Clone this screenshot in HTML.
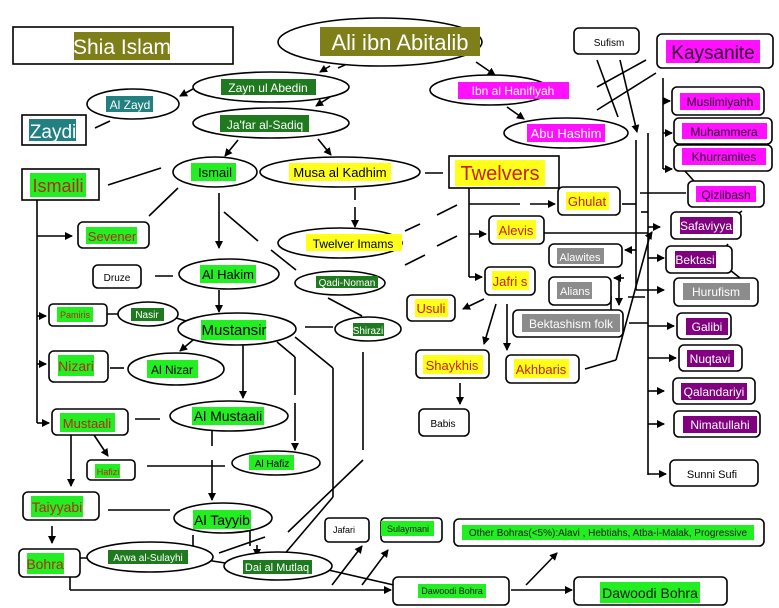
<!DOCTYPE html>
<html><head><meta charset="utf-8"><style>
html,body{margin:0;padding:0;background:#fff;}
svg{display:block;font-family:"Liberation Sans",sans-serif;}
</style></head><body>
<svg width="779" height="608" viewBox="0 0 779 608" xmlns="http://www.w3.org/2000/svg">
<defs><marker id="a" markerWidth="8" markerHeight="8" refX="7" refY="4" orient="auto" markerUnits="userSpaceOnUse"><path d="M0,0 L8,4 L0,8 z" fill="#000"/></marker></defs>
<rect width="779" height="608" fill="#fff"/>
<g stroke="#000" stroke-width="1.6" fill="none">
<line x1="330" y1="66" x2="320" y2="72" marker-end="url(#a)"/><line x1="338" y1="68" x2="347" y2="64"/>
<line x1="193" y1="89" x2="180" y2="96" marker-end="url(#a)"/>
<line x1="95" y1="128" x2="110" y2="121"/>
<line x1="330" y1="97" x2="316" y2="106" marker-end="url(#a)"/>
<line x1="238" y1="140" x2="225" y2="156" marker-end="url(#a)"/>
<line x1="318" y1="139" x2="331" y2="155" marker-end="url(#a)"/>
<line x1="108" y1="185" x2="161" y2="168"/>
<line x1="149" y1="216" x2="178" y2="188"/>
<line x1="219" y1="193" x2="219" y2="248" marker-end="url(#a)"/>
<line x1="224" y1="212" x2="258" y2="241"/><line x1="271" y1="250" x2="296" y2="270"/>
<line x1="355" y1="188" x2="355" y2="200"/><line x1="355" y1="207" x2="355" y2="227" marker-end="url(#a)"/>
<line x1="37" y1="200" x2="37" y2="423"/>
<line x1="37" y1="236" x2="72" y2="236" marker-end="url(#a)"/>
<line x1="37" y1="316" x2="46" y2="316" marker-end="url(#a)"/>
<line x1="37" y1="364" x2="46" y2="364" marker-end="url(#a)"/>
<line x1="37" y1="423" x2="49" y2="423" marker-end="url(#a)"/>
<line x1="155" y1="276" x2="173" y2="276"/>
<line x1="219" y1="290" x2="219" y2="312" marker-end="url(#a)"/>
<line x1="99" y1="314" x2="118" y2="314"/>
<line x1="173" y1="317" x2="186" y2="321"/>
<line x1="193" y1="340" x2="180" y2="351" marker-end="url(#a)"/>
<line x1="110" y1="368" x2="124" y2="368"/>
<line x1="243" y1="345" x2="243" y2="398" marker-end="url(#a)"/>
<line x1="135" y1="419" x2="160" y2="419"/>
<line x1="277" y1="342" x2="295" y2="357"/><line x1="295" y1="357" x2="295" y2="450" stroke-dasharray="38,8" marker-end="url(#a)"/>
<line x1="295" y1="337" x2="333" y2="368"/><line x1="333" y1="368" x2="333" y2="497"/><line x1="333" y1="497" x2="282" y2="557"/>
<line x1="305" y1="327" x2="333" y2="327"/>
<line x1="363" y1="352" x2="363" y2="450"/><line x1="363" y1="460" x2="288" y2="532"/>
<line x1="328" y1="298" x2="362" y2="316"/>
<line x1="212" y1="431" x2="212" y2="446"/><line x1="212" y1="460" x2="212" y2="500" marker-end="url(#a)"/>
<line x1="147" y1="466" x2="225" y2="466"/>
<line x1="94" y1="435" x2="108" y2="456" marker-end="url(#a)"/>
<line x1="71" y1="435" x2="71" y2="486" marker-end="url(#a)"/>
<line x1="108" y1="510" x2="170" y2="510"/>
<line x1="52" y1="526" x2="52" y2="543" marker-end="url(#a)"/>
<line x1="78" y1="558" x2="98" y2="558"/>
<line x1="193" y1="535" x2="193" y2="550"/>
<line x1="250" y1="530" x2="250" y2="546"/><line x1="257" y1="545" x2="257" y2="556" marker-end="url(#a)"/>
<line x1="219" y1="553" x2="265" y2="537"/>
<line x1="206" y1="560" x2="238" y2="565"/>
<line x1="324" y1="569" x2="398" y2="586"/>
<line x1="70" y1="577" x2="70" y2="590"/><line x1="70" y1="590" x2="391" y2="590" marker-end="url(#a)"/>
<line x1="332" y1="585" x2="362" y2="546" marker-end="url(#a)"/>
<line x1="362" y1="585" x2="388" y2="550" marker-end="url(#a)"/>
<line x1="511" y1="590" x2="572" y2="590" marker-end="url(#a)"/>
<line x1="526" y1="585" x2="557" y2="553" marker-end="url(#a)"/>
<line x1="476" y1="62" x2="495" y2="75" marker-end="url(#a)"/>
<line x1="507" y1="107" x2="524" y2="119" marker-end="url(#a)"/>
<line x1="425" y1="173" x2="443" y2="173"/>
<line x1="469" y1="188" x2="469" y2="277"/>
<line x1="469" y1="204" x2="520" y2="204"/><line x1="530" y1="204" x2="555" y2="204" marker-end="url(#a)"/>
<line x1="469" y1="234" x2="486" y2="234" marker-end="url(#a)"/>
<line x1="469" y1="277" x2="482" y2="277" marker-end="url(#a)"/>
<line x1="437" y1="215" x2="457" y2="205"/><line x1="405" y1="231" x2="420" y2="224"/>
<line x1="437" y1="246" x2="457" y2="236"/><line x1="405" y1="265" x2="425" y2="255"/>
<line x1="484" y1="299" x2="463" y2="309" marker-end="url(#a)"/>
<line x1="496" y1="304" x2="484" y2="344" marker-end="url(#a)"/>
<line x1="507" y1="304" x2="507" y2="350" marker-end="url(#a)"/>
<line x1="460" y1="383" x2="460" y2="404" marker-end="url(#a)"/>
<line x1="597" y1="60" x2="618" y2="117"/><line x1="620" y1="60" x2="637" y2="132" marker-end="url(#a)"/>
<line x1="597" y1="87" x2="646" y2="60"/><line x1="597" y1="110" x2="656" y2="73"/>
<line x1="636" y1="140" x2="636" y2="290"/><line x1="636" y1="290" x2="664" y2="290" marker-end="url(#a)"/>
<line x1="648" y1="133" x2="648" y2="475"/>
<line x1="663" y1="78" x2="663" y2="169"/>
<line x1="663" y1="101" x2="670" y2="101" marker-end="url(#a)"/>
<line x1="663" y1="133" x2="672" y2="133" marker-end="url(#a)"/>
<line x1="663" y1="169" x2="672" y2="169" marker-end="url(#a)"/>
<line x1="684" y1="170" x2="694" y2="181"/>
<line x1="640" y1="193" x2="686" y2="193"/>
<line x1="622" y1="204" x2="636" y2="204"/>
<line x1="641" y1="212" x2="648" y2="212"/>
<line x1="648" y1="227" x2="660" y2="227" marker-end="url(#a)"/>
<line x1="544" y1="233" x2="648" y2="233"/>
<line x1="742" y1="211" x2="728" y2="221"/>
<line x1="636" y1="250" x2="625" y2="250" marker-end="url(#a)"/>
<line x1="648" y1="258" x2="664" y2="258" marker-end="url(#a)"/>
<line x1="728" y1="244" x2="722" y2="252"/><line x1="730" y1="270" x2="740" y2="278"/>
<line x1="624" y1="278" x2="614" y2="278" marker-end="url(#a)"/>
<line x1="619" y1="278" x2="619" y2="305" marker-end="url(#a)"/>
<line x1="611" y1="296" x2="611" y2="310"/>
<line x1="650" y1="235" x2="616" y2="360"/><line x1="650" y1="235" x2="652" y2="232" marker-end="url(#a)"/>
<line x1="616" y1="360" x2="585" y2="369"/>
<line x1="629" y1="323" x2="648" y2="323"/>
<line x1="628" y1="297" x2="645" y2="297"/>
<line x1="648" y1="326" x2="674" y2="326" marker-end="url(#a)"/>
<line x1="648" y1="358" x2="676" y2="358" marker-end="url(#a)"/>
<line x1="648" y1="391" x2="664" y2="391" marker-end="url(#a)"/>
<line x1="648" y1="424" x2="664" y2="424" marker-end="url(#a)"/>
<line x1="648" y1="474" x2="666" y2="474" marker-end="url(#a)"/>
</g>
<g stroke="#000" stroke-width="1.6" fill="#fff">
<rect x="13" y="27" width="220" height="37"/>
<ellipse cx="380" cy="42" rx="102" ry="24"/>
<ellipse cx="271" cy="87" rx="78" ry="15"/>
<ellipse cx="133" cy="104" rx="46" ry="15"/>
<rect x="22" y="115" width="64" height="30"/>
<ellipse cx="271" cy="123" rx="78" ry="15"/>
<ellipse cx="215" cy="172" rx="42" ry="15"/>
<ellipse cx="340" cy="172" rx="80" ry="15"/>
<rect x="22" y="169" width="77" height="31"/>
<rect x="449" y="156" width="110" height="32"/>
<rect x="78" y="222" width="71" height="26" rx="5"/>
<ellipse cx="340" cy="243" rx="62" ry="15"/>
<rect x="93" y="265" width="48" height="23" rx="5"/>
<ellipse cx="229" cy="274" rx="50" ry="15"/>
<ellipse cx="340" cy="283" rx="45" ry="12"/>
<rect x="49" y="304" width="58" height="22" rx="4"/>
<ellipse cx="148" cy="314" rx="30" ry="12"/>
<ellipse cx="237" cy="329" rx="59" ry="16"/>
<ellipse cx="368" cy="329" rx="33" ry="12"/>
<rect x="49" y="351" width="59" height="31" rx="5"/>
<ellipse cx="176" cy="369" rx="48" ry="16"/>
<rect x="52" y="409" width="76" height="26" rx="5"/>
<ellipse cx="229" cy="416" rx="59" ry="15"/>
<rect x="87" y="460" width="48" height="20" rx="4"/>
<ellipse cx="276" cy="463" rx="44" ry="12"/>
<rect x="23" y="492" width="76" height="28" rx="5"/>
<ellipse cx="223" cy="518" rx="49" ry="15"/>
<rect x="19" y="549" width="61" height="28" rx="5"/>
<ellipse cx="150" cy="557" rx="63" ry="15"/>
<ellipse cx="278" cy="566" rx="54" ry="14"/>
<rect x="325" y="518" width="44" height="24" rx="4"/>
<rect x="381" y="518" width="61" height="24" rx="4"/>
<rect x="454" y="519" width="310" height="27" rx="5"/>
<rect x="393" y="577" width="116" height="28" rx="5"/>
<rect x="574" y="577" width="153" height="28" rx="5"/>
<ellipse cx="490" cy="90" rx="60" ry="15"/>
<ellipse cx="566" cy="133" rx="62" ry="15"/>
<rect x="574" y="28" width="65" height="26" rx="5"/>
<rect x="657" y="34" width="116" height="34" rx="5"/>
<rect x="672" y="87" width="92" height="28" rx="5"/>
<rect x="674" y="118" width="98" height="26" rx="5"/>
<rect x="674" y="145" width="98" height="26" rx="5"/>
<rect x="688" y="181" width="76" height="26" rx="5"/>
<rect x="671" y="212" width="70" height="27" rx="5"/>
<rect x="666" y="246" width="66" height="27" rx="5"/>
<rect x="674" y="278" width="84" height="28" rx="5"/>
<rect x="677" y="313" width="54" height="26" rx="5"/>
<rect x="679" y="345" width="63" height="26" rx="5"/>
<rect x="673" y="378" width="82" height="26" rx="5"/>
<rect x="674" y="411" width="86" height="26" rx="5"/>
<rect x="670" y="460" width="88" height="26" rx="5"/>
<rect x="558" y="187" width="62" height="28" rx="5"/>
<rect x="489" y="216" width="55" height="28" rx="5"/>
<rect x="549" y="244" width="73" height="23" rx="5"/>
<rect x="549" y="277" width="62" height="28" rx="5"/>
<rect x="485" y="267" width="50" height="28" rx="5"/>
<rect x="407" y="295" width="48" height="26" rx="5"/>
<rect x="513" y="310" width="110" height="27" rx="5"/>
<rect x="416" y="350" width="73" height="28" rx="5"/>
<rect x="506" y="355" width="73" height="28" rx="5"/>
<rect x="419" y="409" width="50" height="27" rx="5"/>
</g>
<g stroke="none">
<rect x="74" y="32" width="96" height="28" fill="#7f7f1a"/>
<rect x="320" y="27" width="160" height="29" fill="#7f7f1a"/>
<rect x="221" y="79" width="95" height="16" fill="#1f7a1f"/>
<rect x="106" y="96" width="47" height="16" fill="#238080"/>
<rect x="29" y="119" width="47" height="22" fill="#238080"/>
<rect x="220" y="115" width="89" height="17" fill="#1f7a1f"/>
<rect x="191" y="163" width="45" height="18" fill="#22ee22"/>
<rect x="289" y="163" width="102" height="18" fill="#ffff1a"/>
<rect x="30" y="173" width="56" height="24" fill="#22ee22"/>
<rect x="455" y="160" width="90" height="26" fill="#ffff1a"/>
<rect x="86" y="227" width="51" height="17" fill="#22ee22"/>
<rect x="306" y="234" width="96" height="17" fill="#ffff1a"/>
<rect x="200" y="265" width="56" height="18" fill="#22ee22"/>
<rect x="316" y="276" width="62" height="12" fill="#1f7a1f"/>
<rect x="57" y="307" width="36" height="15" fill="#22ee22"/>
<rect x="131" y="308" width="33" height="13" fill="#1f7a1f"/>
<rect x="201" y="320" width="65" height="20" fill="#22ee22"/>
<rect x="353" y="323" width="31" height="13" fill="#1f7a1f"/>
<rect x="58" y="355" width="36" height="21" fill="#22ee22"/>
<rect x="147" y="360" width="51" height="18" fill="#22ee22"/>
<rect x="60" y="413" width="55" height="19" fill="#22ee22"/>
<rect x="192" y="407" width="72" height="18" fill="#22ee22"/>
<rect x="95" y="464" width="25" height="14" fill="#22ee22"/>
<rect x="249" y="455" width="45" height="15" fill="#22ee22"/>
<rect x="31" y="496" width="52" height="21" fill="#22ee22"/>
<rect x="193" y="510" width="58" height="19" fill="#22ee22"/>
<rect x="27" y="553" width="37" height="21" fill="#22ee22"/>
<rect x="108" y="550" width="80" height="14" fill="#1f7a1f"/>
<rect x="243" y="560" width="69" height="14" fill="#1f7a1f"/>
<rect x="381" y="521" width="53" height="15" fill="#22ee22"/>
<rect x="462" y="525" width="292" height="15" fill="#22ee22"/>
<rect x="418" y="584" width="68" height="14" fill="#22ee22"/>
<rect x="600" y="582" width="100" height="21" fill="#22ee22"/>
<rect x="458" y="82" width="111" height="17" fill="#ff10ff"/>
<rect x="527" y="124" width="78" height="18" fill="#ff10ff"/>
<rect x="666" y="40" width="94" height="23" fill="#ff10ff"/>
<rect x="680" y="93" width="80" height="17" fill="#ff10ff"/>
<rect x="682" y="123" width="85" height="16" fill="#ff10ff"/>
<rect x="682" y="148" width="84" height="17" fill="#ff10ff"/>
<rect x="696" y="186" width="60" height="16" fill="#ff10ff"/>
<rect x="680" y="217" width="53" height="17" fill="#800080"/>
<rect x="675" y="251" width="41" height="17" fill="#800080"/>
<rect x="683" y="283" width="67" height="17" fill="#8c8c8c"/>
<rect x="686" y="318" width="42" height="17" fill="#800080"/>
<rect x="687" y="350" width="47" height="17" fill="#800080"/>
<rect x="681" y="383" width="66" height="17" fill="#800080"/>
<rect x="683" y="416" width="74" height="17" fill="#800080"/>
<rect x="566" y="192" width="43" height="18" fill="#ffff1a"/>
<rect x="497" y="220" width="39" height="19" fill="#ffff1a"/>
<rect x="557" y="248" width="47" height="16" fill="#8c8c8c"/>
<rect x="557" y="282" width="35" height="17" fill="#8c8c8c"/>
<rect x="492" y="271" width="37" height="19" fill="#ffff1a"/>
<rect x="415" y="299" width="33" height="18" fill="#ffff1a"/>
<rect x="522" y="314" width="98" height="18" fill="#8c8c8c"/>
<rect x="423" y="355" width="60" height="19" fill="#ffff1a"/>
<rect x="514" y="359" width="55" height="19" fill="#ffff1a"/>
</g>
<g text-anchor="middle">
<text x="122" y="54" font-size="21" fill="#fff">Shia Islam</text>
<text x="400" y="50" font-size="22" fill="#fff">Ali ibn Abitalib</text>
<text x="268" y="92" font-size="12" fill="#fff">Zayn ul Abedin</text>
<text x="130" y="109" font-size="12" fill="#fff">Al Zayd</text>
<text x="53" y="138" font-size="19" fill="#fff">Zaydi</text>
<text x="265" y="129" font-size="12" fill="#fff">Ja'far al-Sadiq</text>
<text x="215" y="177" font-size="13" fill="#000">Ismail</text>
<text x="340" y="177" font-size="13" fill="#000">Musa al Kadhim</text>
<text x="58" y="192" font-size="18" fill="#b8281a">Ismaili</text>
<text x="500" y="180" font-size="20" fill="#c82010">Twelvers</text>
<text x="112" y="241" font-size="13" fill="#b8281a">Sevener</text>
<text x="353" y="248" font-size="12" fill="#000">Twelver Imams</text>
<text x="117" y="281" font-size="10" fill="#000">Druze</text>
<text x="228" y="279" font-size="13" fill="#000">Al Hakim</text>
<text x="347" y="286" font-size="10" fill="#fff">Qadi-Noman</text>
<text x="75" y="318" font-size="9" fill="#b8281a">Pamiris</text>
<text x="147" y="318" font-size="10" fill="#fff">Nasir</text>
<text x="234" y="335" font-size="15" fill="#000">Mustansir</text>
<text x="368" y="334" font-size="10" fill="#fff">Shirazi</text>
<text x="76" y="371" font-size="14" fill="#b8281a">Nizari</text>
<text x="172" y="374" font-size="12" fill="#000">Al Nizar</text>
<text x="87" y="428" font-size="13" fill="#b8281a">Mustaali</text>
<text x="228" y="421" font-size="14" fill="#000">Al Mustaali</text>
<text x="108" y="475" font-size="9" fill="#b8281a">Hafizi</text>
<text x="272" y="467" font-size="10" fill="#000">Al Hafiz</text>
<text x="57" y="512" font-size="14" fill="#b8281a">Taiyyabi</text>
<text x="222" y="525" font-size="14" fill="#000">Al Tayyib</text>
<text x="45" y="569" font-size="14" fill="#b8281a">Bohra</text>
<text x="148" y="561" font-size="10" fill="#fff">Arwa al-Sulayhi</text>
<text x="277" y="571" font-size="11" fill="#fff">Dai al Mutlaq</text>
<text x="344" y="533" font-size="9" fill="#000">Jafari</text>
<text x="408" y="532" font-size="9" fill="#1a1a1a">Sulaymani</text>
<text x="608" y="536" font-size="10" fill="#1a1a1a">Other Bohras(&lt;5%):Alavi , Hebtiahs,  Atba-i-Malak, Progressive</text>
<text x="452" y="594" font-size="9" fill="#1a1a1a">Dawoodi Bohra</text>
<text x="650" y="598" font-size="14" fill="#1a1a1a">Dawoodi  Bohra</text>
<text x="513" y="95" font-size="12" fill="#fff">Ibn al Hanifiyah</text>
<text x="566" y="138" font-size="13" fill="#fff">Abu Hashim</text>
<text x="609" y="46" font-size="10" fill="#000">Sufism</text>
<text x="713" y="59" font-size="19" fill="#2a002a">Kaysanite</text>
<text x="720" y="106" font-size="12" fill="#2a002a">Muslimiyahh</text>
<text x="724" y="136" font-size="12" fill="#2a002a">Muhammera</text>
<text x="724" y="161" font-size="12" fill="#2a002a">Khurramites</text>
<text x="726" y="199" font-size="12" fill="#2a002a">Qizilbash</text>
<text x="706" y="230" font-size="12" fill="#fff">Safaviyya</text>
<text x="695" y="264" font-size="12" fill="#fff">Bektasi</text>
<text x="716" y="296" font-size="12" fill="#fff">Hurufism</text>
<text x="707" y="331" font-size="12" fill="#fff">Galibi</text>
<text x="710" y="363" font-size="12" fill="#fff">Nuqtavi</text>
<text x="714" y="396" font-size="12" fill="#fff">Qalandariyi</text>
<text x="720" y="429" font-size="12" fill="#fff">Nimatullahi</text>
<text x="712" y="478" font-size="11" fill="#000">Sunni Sufi</text>
<text x="587" y="206" font-size="13" fill="#c82010">Ghulat</text>
<text x="516" y="235" font-size="13" fill="#c82010">Alevis</text>
<text x="580" y="261" font-size="11" fill="#fff">Alawites</text>
<text x="575" y="295" font-size="11" fill="#fff">Alians</text>
<text x="510" y="286" font-size="13" fill="#c82010">Jafri s</text>
<text x="431" y="313" font-size="13" fill="#c82010">Usuli</text>
<text x="571" y="328" font-size="12" fill="#fff">Bektashism folk</text>
<text x="452" y="370" font-size="13" fill="#c82010">Shaykhis</text>
<text x="541" y="374" font-size="13" fill="#c82010">Akhbaris</text>
<text x="443" y="427" font-size="10" fill="#000">Babis</text>
</g>
</svg>
</body></html>
